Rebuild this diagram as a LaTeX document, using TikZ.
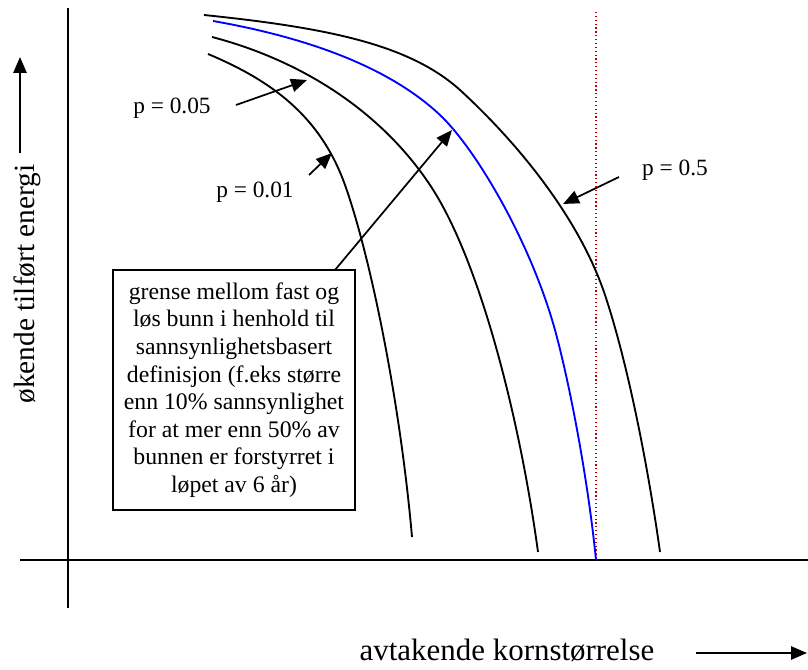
\documentclass[tikz,border=0pt]{standalone}
\usepackage{fontspec}
\setmainfont{Liberation Serif}
\usetikzlibrary{arrows.meta}
\definecolor{dred}{RGB}{192,0,0}
\definecolor{cblue}{RGB}{0,0,255}
\begin{document}
\begin{tikzpicture}[x=0.75pt,y=-0.75pt,
  axis/.style={line width=1.5pt},
  curve/.style={line width=1.4pt},
  arr/.style={line width=1.3pt,-{Triangle[length=12pt,width=10pt]}},
  lbl/.style={font=\fontsize{17.5}{21}\selectfont, inner sep=0pt},
  axlbl/.style={font=\fontsize{23.2}{26}\selectfont, inner sep=0pt},
  ylbl/.style={font=\fontsize{22}{26}\selectfont, inner sep=0pt},
  boxnode/.style={draw, line width=1.3pt, align=center, minimum width=181.5pt, minimum height=180pt, inner sep=2pt, font=\fontsize{17.8}{20.7}\selectfont}
]
\useasboundingbox (0,0) rectangle (808,670);

% axes
\coordinate (vtop) at (68,8);
\coordinate (vbot) at (68,608);
\coordinate (hleft) at (20,560);
\coordinate (hright) at (808,560);
\draw[axis] (vtop) -- (vbot);
\draw[axis] (hleft) -- (hright);

% red dotted line
\coordinate (rtop) at (596,12);
\coordinate (rbot) at (596,560);
\draw[dred, line width=0.9pt, dotted] (rtop) -- (rbot);

% curves
\coordinate (c1a) at (204,15);
\coordinate (c1b) at (460,90);
\coordinate (c1c) at (605,295);
\coordinate (c1d) at (660,552);
\draw[curve] (c1a) .. controls (330,28) and (410,45) .. (c1b)
  .. controls (520,145) and (580,220) .. (c1c)
  .. controls (630,370) and (650,480) .. (c1d);

\coordinate (c2a) at (213,21);
\coordinate (c2b) at (440,115);
\coordinate (c2c) at (555,330);
\coordinate (c2d) at (596,560);
\draw[curve, cblue] (c2a) .. controls (310,38) and (390,68) .. (c2b)
  .. controls (475,148) and (530,240) .. (c2c)
  .. controls (570,385) and (588,480) .. (c2d);

\coordinate (c3a) at (212,37);
\coordinate (c3b) at (430,185);
\coordinate (c3c) at (538,552);
\draw[curve] (c3a) .. controls (300,60) and (380,110) .. (c3b)
  .. controls (480,260) and (520,420) .. (c3c);

\coordinate (c4a) at (208,54);
\coordinate (c4b) at (345,185);
\coordinate (c4c) at (412,537);
\draw[curve] (c4a) .. controls (270,80) and (320,115) .. (c4b)
  .. controls (370,255) and (400,400) .. (c4c);

% labels and arrows
\node[lbl] (p05) at (172,108) {p = 0.05};
\coordinate (a05s) at (236,105);
\coordinate (a05t) at (307,80);
\draw[arr] (a05s) -- (a05t);

\node[lbl] (p01) at (255,192) {p = 0.01};
\coordinate (a01s) at (309,175);
\coordinate (a01t) at (332,153);
\draw[arr] (a01s) -- (a01t);

\node[lbl] (p5) at (675,170) {p = 0.5};
\coordinate (a5s) at (619,177);
\coordinate (a5t) at (563,204);
\draw[arr] (a5s) -- (a5t);

\node[boxnode] (box) at (234,390) {grense mellom fast og\\løs bunn i henhold til\\sannsynlighetsbasert\\definisjon (f.eks større\\enn 10\% sannsynlighet\\for at mer enn 50\% av\\bunnen er forstyrret i\\løpet av 6 år)};
\coordinate (boxs) at (335,270);
\coordinate (boxt) at (452,130);
\draw[arr] (boxs) -- (boxt);

% axis labels
\node[ylbl, rotate=90] (ylab) at (27,284) {økende tilført energi};
\coordinate (uparrs) at (20,153);
\coordinate (uparrt) at (20,57);
\draw[arr] (uparrs) -- (uparrt);

\node[axlbl] (xlab) at (507,650) {avtakende kornstørrelse};
\coordinate (rarrs) at (696,653);
\coordinate (rarrt) at (807,653);
\draw[arr] (rarrs) -- (rarrt);
\end{tikzpicture}
\end{document}
